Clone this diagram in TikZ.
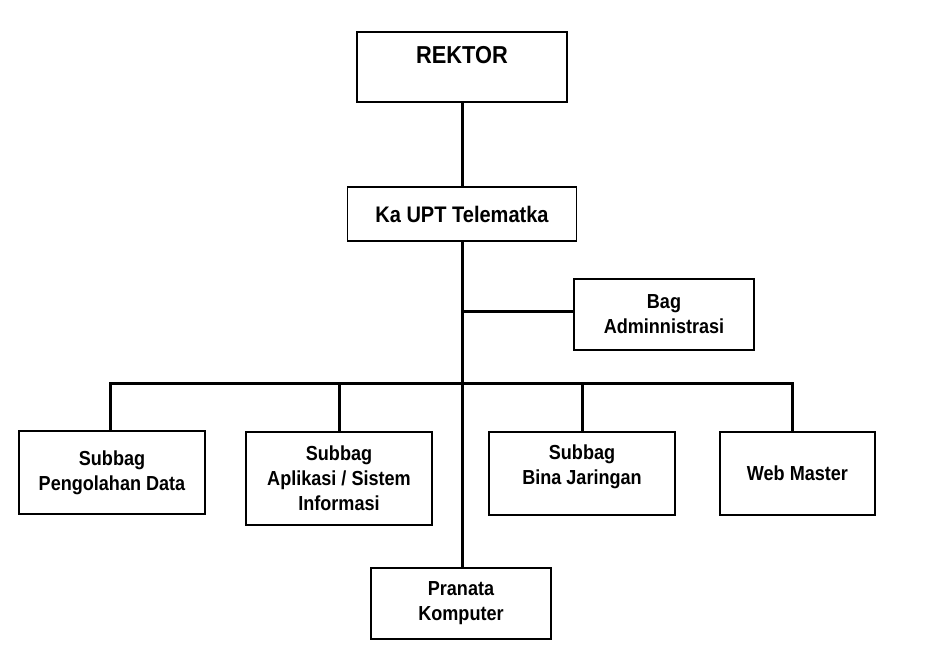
\documentclass[tikz,border=0pt]{standalone}
\usepackage{fontspec}
\setmainfont{Liberation Sans}[FakeStretch=0.89]
\begin{document}
\begin{tikzpicture}[x=1pt,y=-1pt,
  box/.style={draw, line width=1.4pt, inner sep=0pt, align=center,
              font=\bfseries\fontsize{20.3}{25}\selectfont},
  lbl/.style={inner sep=0pt, align=center, font=\bfseries\fontsize{20.3}{25}\selectfont},
  conn/.style={line width=3pt, line join=miter}]
\useasboundingbox (0,0) rectangle (926,662);
% boxes
\node[box, minimum width=210, minimum height=70] (rektor) at (462,67) {};
\node[lbl, font=\bfseries\fontsize{24.5}{29}\selectfont] (rektortext) at (462,55) {REKTOR};
\node[box, minimum width=229, minimum height=54, font=\bfseries\fontsize{22.5}{25.5}\selectfont] (kaupt) at (462,214) {Ka UPT Telematka};
\node[box, minimum width=180, minimum height=71] (bag) at (664,314.5) {Bag\\Adminnistrasi};
\node[box, minimum width=186, minimum height=83] (pengolahan) at (112,472.5) {Subbag\\Pengolahan Data};
\node[box, minimum width=186, minimum height=93] (aplikasi) at (339,478.5) {Subbag\\Aplikasi / Sistem\\Informasi};
\node[box, minimum width=186, minimum height=83] (bina) at (582,473.5) {};
\node[lbl] (binatext) at (582,467) {Subbag\\Bina Jaringan};
\node[box, minimum width=155, minimum height=83] (webmaster) at (797.5,473.5) {Web Master};
\node[box, minimum width=180, minimum height=71] (pranata) at (461,603.5) {Pranata\\Komputer};
% connector points
\coordinate (d1) at (110,383);
\coordinate (d2) at (339,383);
\coordinate (d3) at (582,383);
\coordinate (d4) at (792,383);
% connectors
\draw[conn] (rektor.south) -- (kaupt.north);
\draw[conn] (kaupt.south) -- (kaupt.south |- pranata.north);
\draw[conn] (kaupt.south |- bag.west) ++(0,-3.5) coordinate (bj) -- ([yshift=3.5pt]bag.west);
\draw[conn] (d1 |- pengolahan.north) -- (d1) -- (d4) -- (d4 |- webmaster.north);
\draw[conn] (d2) -- (d2 |- aplikasi.north);
\draw[conn] (d3) -- (d3 |- bina.north);
\end{tikzpicture}
\end{document}
